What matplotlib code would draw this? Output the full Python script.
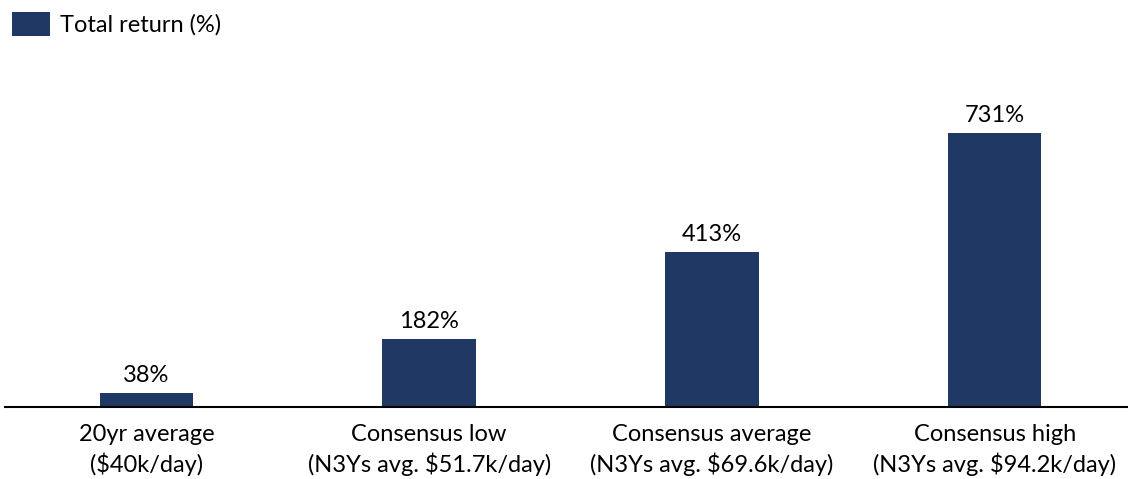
import matplotlib
matplotlib.use("agg")
import matplotlib.pyplot as plt

categories = ["20yr average\n($40k/day)",
              "Consensus low\n(N3Ys avg. $51.7k/day)",
              "Consensus average\n(N3Ys avg. $69.6k/day)",
              "Consensus high\n(N3Ys avg. $94.2k/day)"]
total_return = [38, 182, 413, 731]
value_labels = ["38%", "182%", "413%", "731%"]
series_name = "Total return (%)"

navy = "#1f3864"
plt.rcParams['font.family'] = ['Lato', 'DejaVu Sans']

W, H = 1128, 479
fig = plt.figure(figsize=(W / 100, H / 100), dpi=100)
# axes placed in pixel terms: baseline at y=407, slots of ~283px
ax = fig.add_axes([5 / W, (H - 407) / H, 1131 / W, 347 / H])

x = range(len(categories))
bars = ax.bar(x, total_return, width=0.33, color=navy, label=series_name)
ax.bar_label(bars, labels=value_labels, padding=5, fontsize=17, color="black")

ax.set_xlim(-0.5, 3.5)
ax.set_ylim(0, 926)
ax.set_yticks([])
ax.set_xticks(list(x))
ax.set_xticklabels(categories, fontsize=17, linespacing=1.4)
ax.tick_params(axis="x", length=0, pad=12)
for s in ["top", "right", "left"]:
    ax.spines[s].set_visible(False)
ax.spines["bottom"].set_linewidth(1.5)
ax.spines["bottom"].set_color("black")

fig.legend(loc="upper left", bbox_to_anchor=(0.0, 1.0), frameon=False,
           fontsize=17, handlelength=1.6, handleheight=1.2, handletextpad=0.45,
           borderaxespad=0.2, borderpad=0.3)

fig.savefig("out.png", dpi=100)
